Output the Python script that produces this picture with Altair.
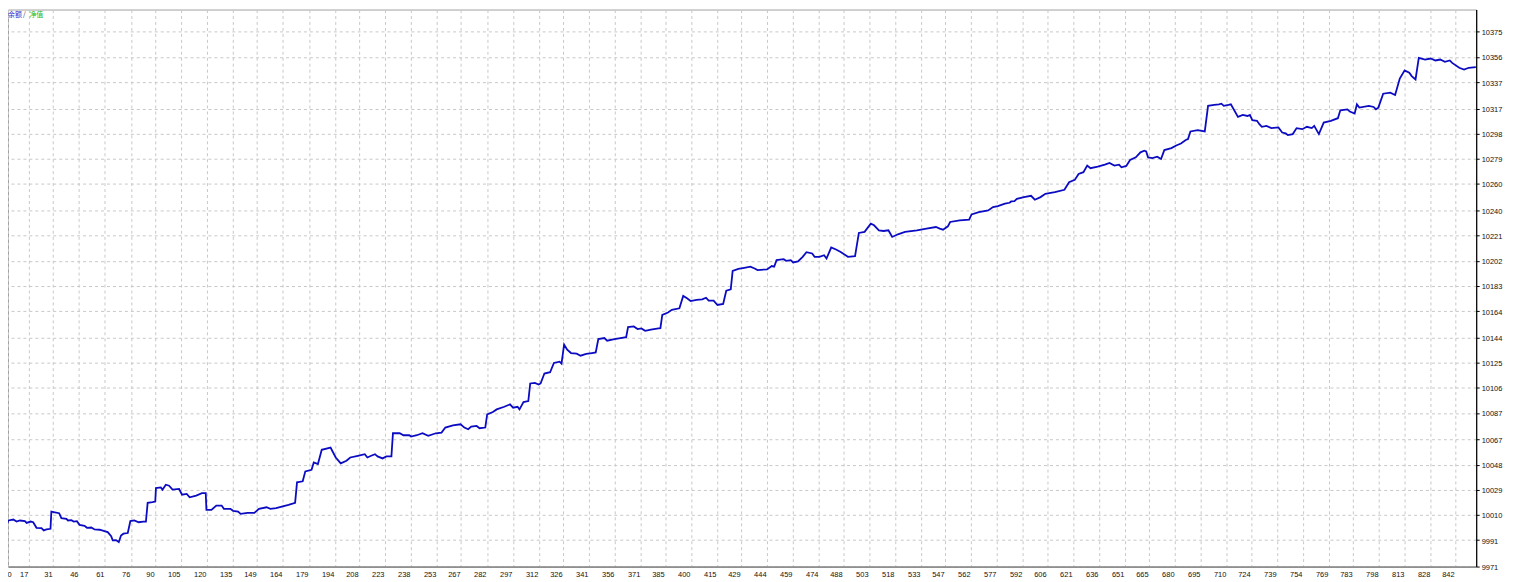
import altair as alt
import pandas as pd

# ---- data (trade number, balance) ----
trade_no = [
    2.2, 3.8, 5.1, 8.0, 9.9, 11.8, 14.7, 15.7, 18.0, 19.5, 21.4, 24.3, 25.6, 27.2, 29.5, 30.0,
    32.0, 34.5, 35.8, 38.7, 39.6, 41.6, 42.9, 44.8, 46.3, 49.2, 50.6, 53.1, 55.0, 57.9, 60.7,
    62.6, 64.6, 65.5, 67.4, 69.0, 70.3, 71.7, 74.2, 75.7, 78.0, 80.5, 83.2, 84.7, 85.7, 88.5,
    90.1, 90.5, 93.3, 94.3, 96.2, 98.1, 100.1, 103.9,
    105.6, 108.3, 110.0, 113.8, 117.1, 119.3, 119.7, 122.6, 125.4, 128.5, 129.8, 133.6, 135.1,
    138.0, 139.5, 143.5, 147.4, 150.1, 154.5, 156.7, 160.0, 163.3, 167.2, 171.0, 172.1, 175.4,
    176.9, 180.5, 181.8, 184.2, 186.4, 191.5, 194.5, 197.4, 200.7, 202.9, 207.3, 211.3, 212.8,
    215.0, 217.2, 218.7, 221.6, 223.8, 226.7, 227.6, 231.5, 233.7, 237.0, 238.1, 241.4, 244.7,
    248.0, 252.4, 255.7, 257.9, 262.3, 266.7, 268.9, 271.1, 272.9, 276.0, 277.7, 281.0, 282.1,
    285.4, 287.6, 292.0, 295.3, 297.1, 299.7, 300.8, 303.1, 305.9, 307.0, 309.7, 311.9, 313.0,
    315.2, 318.5, 320.7, 324.0, 325.1, 326.6, 328.4, 330.6, 333.9, 336.1, 339.4, 342.7, 344.9,
    346.4, 349.9, 351.5, 355.7, 359.2, 362.5, 363.6, 366.9, 369.1, 371.3, 373.5, 376.8, 381.2,
    382.3, 383.4, 386.7, 388.9, 393.3, 395.5, 397.7, 399.8, 403.2, 406.5, 408.7, 410.2, 413.1,
    415.3, 418.6, 420.4, 423.0, 424.1, 427.4, 430.8,
    434.4, 437.1, 438.5, 444.0, 446.7, 448.1, 449.5, 453.6, 455.0, 457.7, 459.1, 461.9, 464.6,
    466.8, 470.1, 471.5, 474.3, 477.0, 478.4, 481.1, 483.9, 486.6, 488.8, 490.8, 494.9, 497.1,
    500.4, 504.0, 505.9, 508.7, 511.4, 514.2, 516.4, 519.7, 523.8, 530.7, 536.2, 541.7, 543.9,
    545.8, 548.6, 549.9, 555.4, 560.9, 562.3, 566.5, 571.9, 574.7, 577.5, 581.6, 584.3, 585.2,
    587.1, 588.5, 592.6, 596.7, 598.9, 602.2, 605.0, 610.5, 616.0, 618.7, 622.0, 624.2, 627.0,
    629.2, 631.1, 635.3, 639.4, 642.1, 644.9, 647.6, 649.0, 651.8, 654.0, 657.3, 660.0, 662.2,
    663.3, 664.4, 666.9, 669.7, 671.9, 673.8, 677.9, 680.7, 683.4, 686.2, 687.5, 688.9, 693.1,
    697.2, 699.1, 702.7, 705.4, 706.8, 708.2, 710.9, 712.3, 716.4, 719.2, 721.9, 723.3, 724.7,
    727.4, 728.8, 730.2, 732.9, 735.7, 739.8, 742.0, 744.0, 745.3, 748.1, 750.3, 753.6, 756.3,
    759.1, 760.5, 763.2, 766.0, 770.1, 774.2, 775.6, 779.7, 781.1, 783.9, 785.2, 786.6, 792.1,
    794.9, 796.2, 797.6, 800.4, 804.5, 807.3, 810.0, 812.8, 815.5, 816.9, 819.1, 821.0, 824.6,
    827.9, 830.6, 833.4, 836.1, 838.9, 840.3, 844.4, 847.2, 849.9, 854.0,
]
balance = [
    9999.5, 10000.8, 10005.8, 10006.5, 10005.0, 10005.8, 10005.3, 10004.0, 10005.0, 10004.5,
    10000.3, 10000.0, 9998.3, 9999.0, 9999.5, 10012.5, 10012.0, 10011.3, 10007.5, 10007.0,
    10005.8, 10006.0, 10005.0, 10005.3, 10002.5, 10001.8, 10000.3, 10000.5, 9999.0, 9998.8,
    9997.8, 9997.0, 9994.0, 9990.8, 9991.0, 9989.5, 9994.5, 9995.8, 9996.3, 10005.3, 10005.8,
    10004.5, 10005.0, 10005.0, 10019.1, 10019.6, 10020.1, 10030.3, 10030.8, 10029.1, 10032.8,
    10032.1, 10029.1, 10029.6,
    10025.3, 10025.9, 10023.3, 10024.6, 10026.4, 10026.4, 10013.8, 10013.8, 10017.1, 10017.1,
    10014.6, 10014.6, 10013.1, 10012.6, 10010.8, 10011.6, 10011.6, 10014.6, 10015.8, 10014.6,
    10015.1, 10016.3, 10017.6, 10019.1, 10034.6, 10035.4, 10042.9, 10044.1, 10049.7, 10048.4,
    10059.2, 10060.9, 10053.4, 10048.9, 10050.9, 10053.4, 10054.7, 10055.9, 10053.4, 10054.7,
    10055.9, 10054.2, 10052.7, 10054.2, 10054.2, 10071.7, 10071.7, 10070.2, 10070.2, 10069.2,
    10070.2, 10071.7, 10069.7, 10071.7, 10072.2, 10076.0, 10077.7, 10078.5, 10076.0, 10074.7,
    10076.7, 10077.2, 10075.5, 10076.0, 10086.0, 10087.7, 10089.7, 10091.7, 10093.5, 10091.0,
    10091.7, 10089.7, 10095.2, 10096.0, 10109.3, 10109.8, 10108.5, 10109.3, 10116.8, 10117.8,
    10124.8, 10125.8, 10124.3, 10138.6, 10134.8, 10132.3, 10131.8, 10130.3, 10131.6, 10132.3,
    10132.8, 10142.8, 10143.6, 10141.6, 10142.8, 10143.6, 10144.3, 10151.9, 10152.4, 10150.4,
    10150.9, 10149.1, 10149.9, 10150.9, 10151.1, 10161.1, 10162.9, 10164.9, 10166.1, 10175.4,
    10173.6, 10171.6, 10172.4, 10172.9, 10174.1, 10171.9, 10171.9, 10168.6, 10169.4, 10179.4,
    10180.4, 10194.4, 10195.9, 10196.7,
    10197.5, 10196.0, 10195.0, 10195.5, 10198.0, 10197.5, 10202.5, 10203.2, 10202.0, 10202.5,
    10200.7, 10201.5, 10205.0, 10208.5, 10207.5, 10205.0, 10205.0, 10206.2, 10203.7, 10212.0,
    10210.5, 10208.7, 10206.7, 10205.0, 10205.5, 10223.0, 10223.8, 10230.0, 10228.8, 10225.0,
    10224.5, 10225.0, 10220.0, 10222.0, 10223.8, 10225.0, 10226.3, 10227.5, 10226.3, 10225.5,
    10228.0, 10231.3, 10232.5, 10233.0, 10237.0, 10238.8, 10240.0, 10242.6, 10243.3, 10245.1,
    10245.8, 10246.8, 10247.1, 10248.8, 10250.1, 10251.1, 10248.1, 10250.1, 10252.6, 10253.8,
    10255.6, 10261.3, 10263.1, 10267.6, 10268.9, 10273.9, 10271.9, 10273.1, 10274.6, 10275.9,
    10273.9, 10274.6, 10272.6, 10273.6, 10278.1, 10280.1, 10283.9, 10285.1, 10284.6, 10280.1,
    10279.6, 10280.6, 10278.9, 10285.6, 10287.1, 10289.1, 10290.6, 10293.2, 10293.9, 10299.7,
    10300.7, 10299.7, 10319.0, 10319.7, 10320.2, 10320.7, 10319.0, 10319.7, 10320.2, 10310.7,
    10312.2, 10311.4, 10312.2, 10308.2, 10307.7, 10305.2, 10303.2, 10303.9, 10302.2, 10302.7,
    10298.9, 10298.2, 10296.9, 10297.7, 10302.2, 10301.4, 10303.2, 10302.2, 10303.9, 10297.7,
    10306.4, 10307.7, 10309.7, 10315.7, 10316.4, 10314.7, 10313.2, 10320.2, 10317.7, 10319.0,
    10318.2, 10316.4, 10317.7, 10328.2, 10329.0, 10327.2, 10339.7, 10345.8, 10344.0, 10341.5,
    10339.0, 10355.3, 10354.0, 10354.8, 10353.3, 10354.0, 10352.3, 10353.3, 10351.5, 10347.8,
    10346.5, 10347.8, 10348.3,
]

x_tick_labels = [0, 17, 31, 46, 61, 76, 90, 105, 120, 135, 149, 164, 179, 194, 208, 223,
                 238, 253, 267, 282, 297, 312, 326, 341, 356, 371, 385, 400, 415, 429, 444, 459,
                 474, 488, 503, 518, 533, 547, 562, 577, 592, 606, 621, 636, 651, 665, 680,
                 695, 710, 724, 739, 754, 769, 783, 798, 813, 828, 842]
y_tick_labels = [9971, 9991, 10010, 10029, 10048, 10067, 10087, 10106, 10125, 10144, 10164,
                 10183, 10202, 10221, 10240, 10260, 10279, 10298, 10317, 10337, 10356, 10375]

legend_text = ["余额", "/", "净值"]
legend_colors = ["#2a2ad0", "#404040", "#12b812"]

X_MIN, X_MAX = 4.92, 854.2
Y_MIN, Y_MAX = 9971, 10391.8

df = pd.DataFrame({"trade": trade_no, "balance": balance})

x_values = [X_MIN] + x_tick_labels[1:]

line = alt.Chart(df).mark_line(color="#0b0bc2", strokeWidth=1.8, clip=True).encode(
    x=alt.X("trade:Q",
            scale=alt.Scale(domain=[X_MIN, X_MAX], nice=False, zero=False),
            axis=alt.Axis(values=x_values, format="d",
                          labelExpr="datum.value < 10 ? '%d' : datum.label" % x_tick_labels[0],
                          title=None, grid=True, gridColor="#c8c8c8", gridDash=[3, 3],
                          gridWidth=1, domainColor="#606060", domainWidth=1,
                          ticks=False, labelAlign=alt.ExprRef(expr="datum.value < 10 ? 'left' : 'right'"),
                          labelBaseline="top", labelPadding=4, labelOffset=-1,
                          labelFont="Liberation Sans", labelFontSize=7.5, labelColor="#111111",
                          labelFlush=False, labelOverlap=False, labelBound=False)),
    y=alt.Y("balance:Q",
            scale=alt.Scale(domain=[Y_MIN, Y_MAX], nice=False, zero=False),
            axis=alt.Axis(orient="right", values=y_tick_labels, format="d",
                          title=None, grid=True, gridColor="#c8c8c8", gridDash=[3, 3],
                          gridWidth=1, domainColor="#000000", domainWidth=1.2,
                          ticks=True, tickSize=3, tickColor="#000000",
                          labelAlign="left", labelBaseline="middle", labelPadding=2,
                          labelOffset=1,
                          labelFont="Liberation Sans", labelFontSize=7.5, labelColor="#111111",
                          labelOverlap=False, labelBound=False)),
)

legend_x = [0, 15, 21.5]
texts = []
for t, c, lx in zip(legend_text, legend_colors, legend_x):
    texts.append(
        alt.Chart(pd.DataFrame({"t": [t]})).mark_text(
            align="left", baseline="middle", font="Noto Sans CJK SC",
            fontSize=7, color=c
        ).encode(x=alt.value(lx), y=alt.value(6), text="t:N")
    )

chart = alt.layer(line, *texts).properties(
    width=1476, height=560,
    padding={"left": 0, "top": 0, "right": 36, "bottom": 14},
    autosize=alt.AutoSizeParams(type="none"),
    background="#ffffff",
).configure_view(stroke="#a0a0a0", strokeWidth=1)

chart.save("out.html", embed_options={"renderer": "svg", "actions": False})
